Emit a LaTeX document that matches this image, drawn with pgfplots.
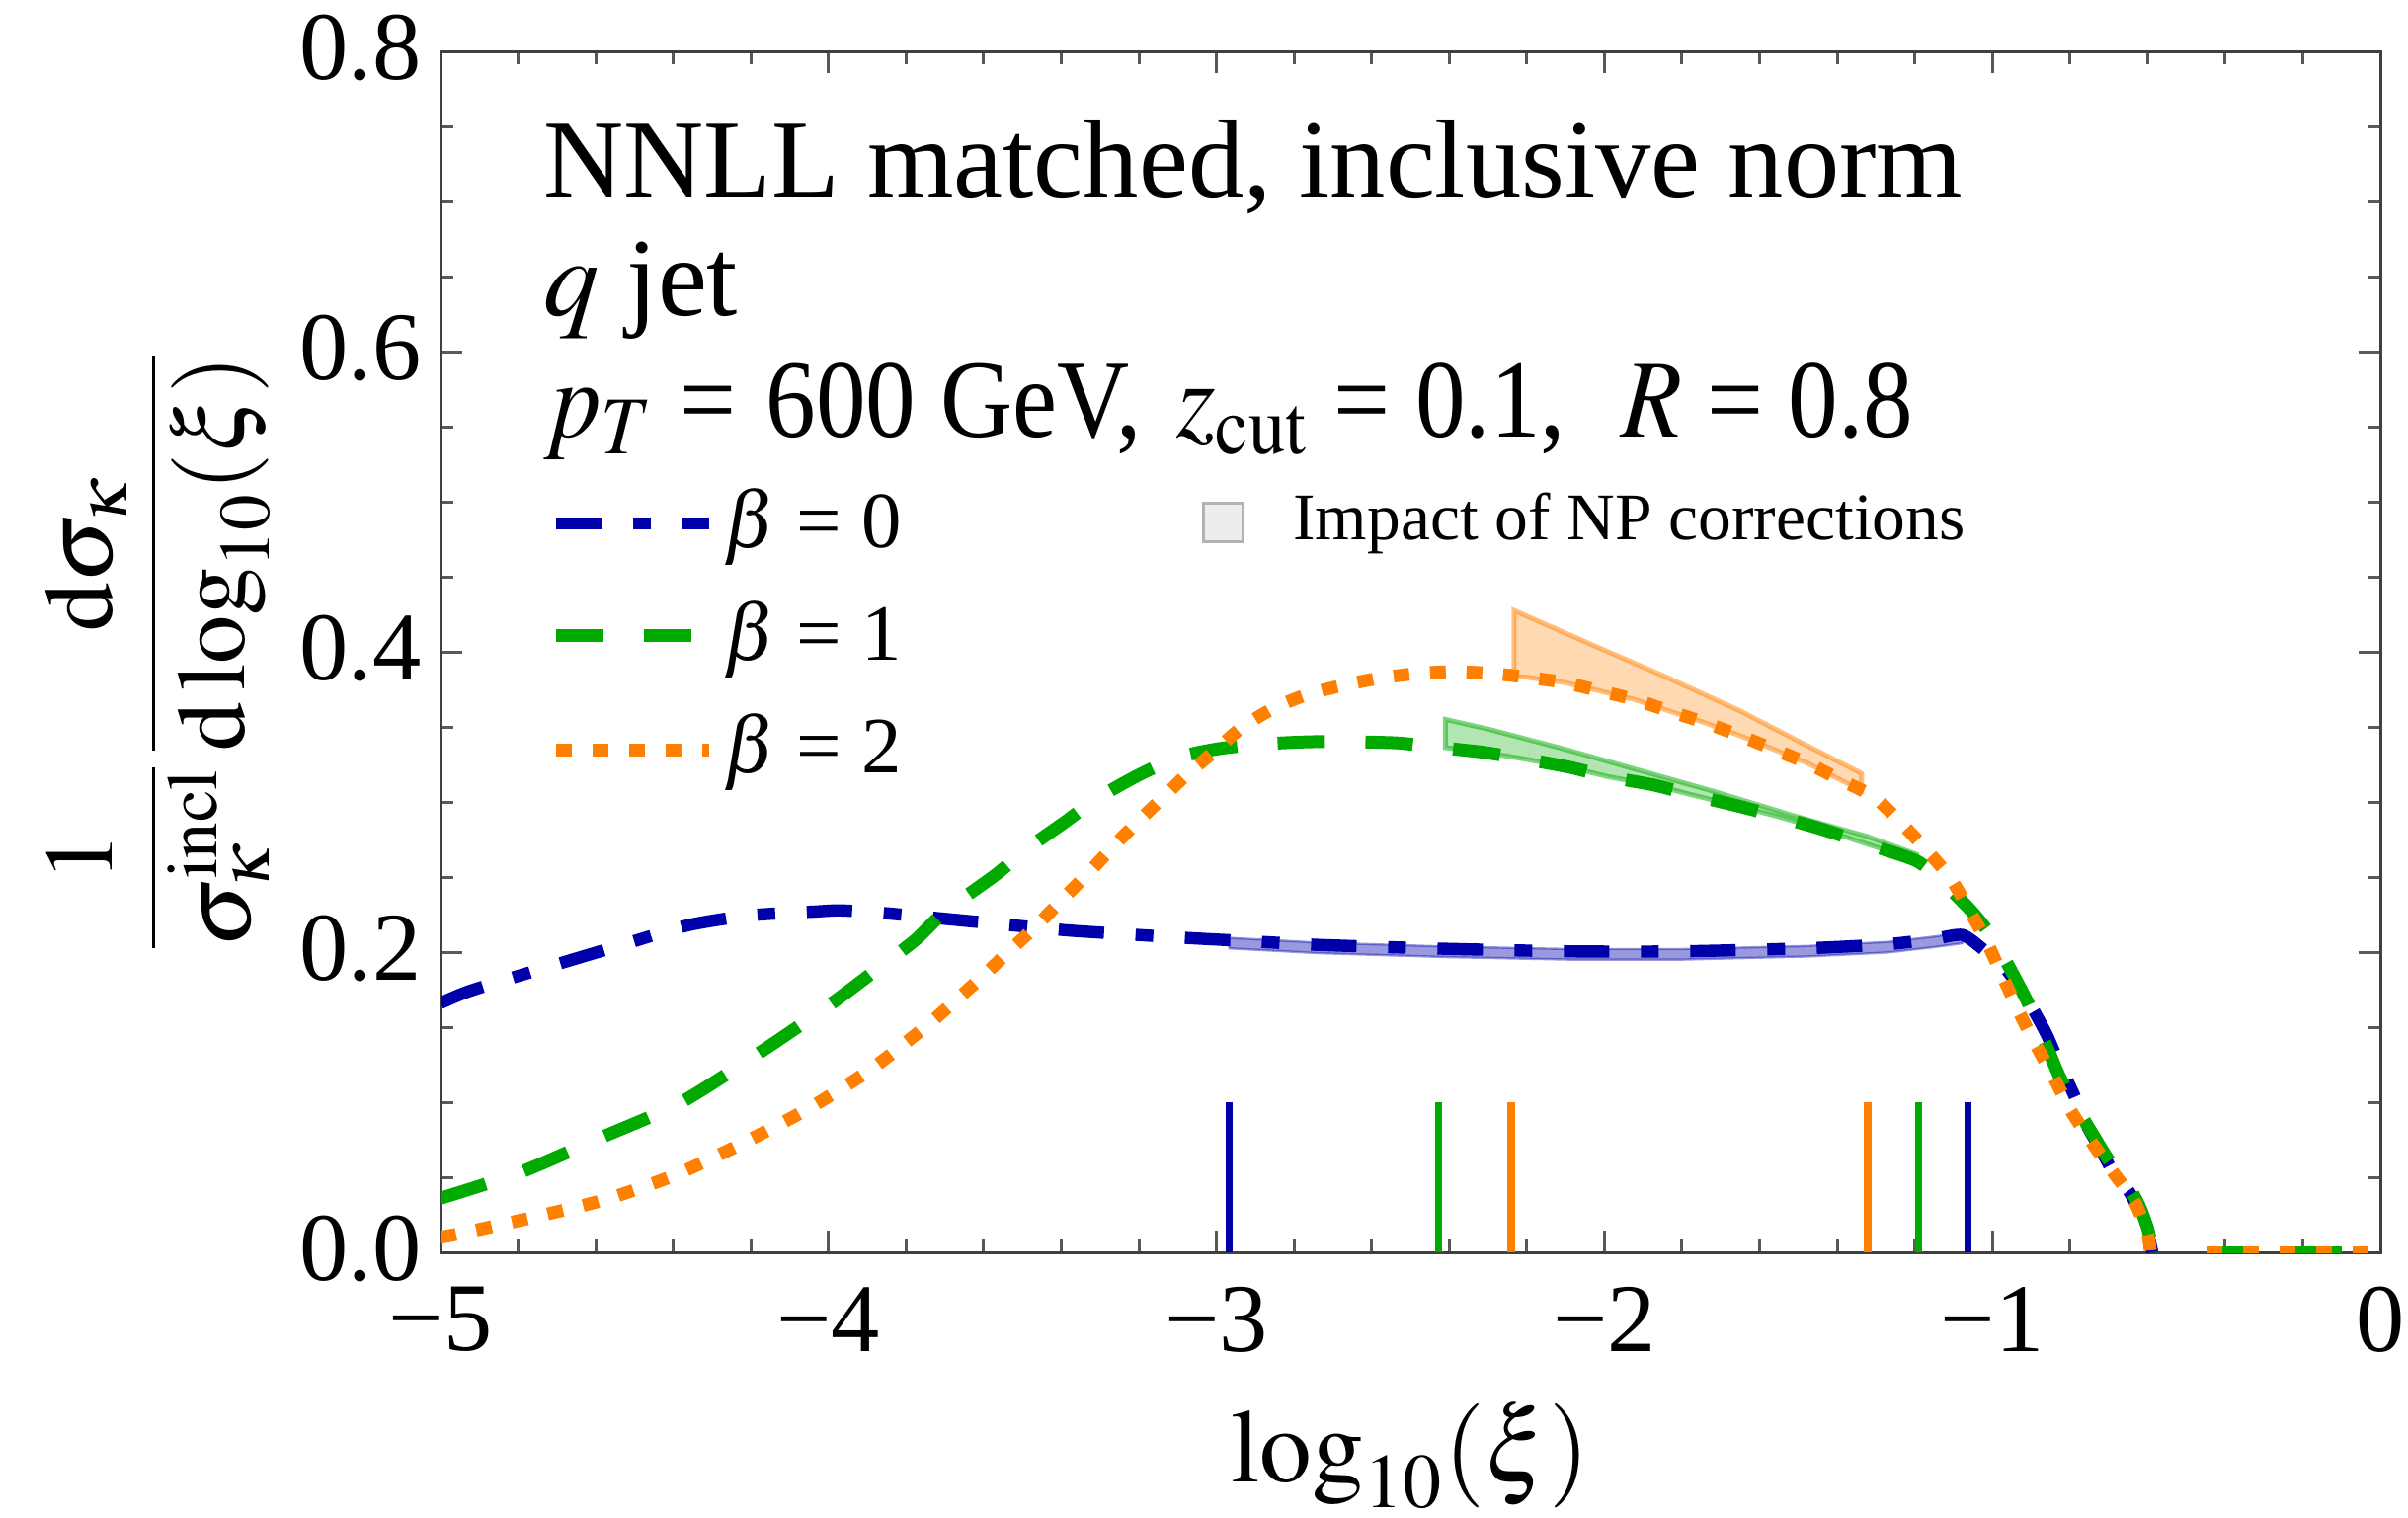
\documentclass[border=0pt]{standalone}
\usepackage{mathptmx}
\usepackage{fontspec}
\setmainfont{Liberation Serif}
\usepackage{graphicx}
\usepackage{pgfplots}
\pgfplotsset{compat=1.18}

\definecolor{cBlue}{RGB}{0,0,170}
\definecolor{cGreen}{RGB}{0,170,0}
\definecolor{cOrange}{RGB}{255,128,0}

\tikzset{
  beta0/.style={cBlue, line width=0.62mm, dash pattern=on 2.3mm off 1.6mm on 0.9mm off 1.6mm},
  beta1/.style={cGreen, line width=0.65mm, dash pattern=on 2.4mm off 2.05mm},
  beta2/.style={cOrange, line width=0.65mm, dash pattern=on 0.8mm off 1.05mm},
  npband/.style={fill=#1, fill opacity=0.3, draw=#1, draw opacity=0.5, line width=0.25mm},
  infotext/.style={anchor=base west, inner sep=0pt, font=\fontsize{16}{19}\selectfont},
}
% the parameter line is set slightly narrower
\newcommand{\narrow}[1]{\scalebox{0.9}[1]{#1}}

\begin{document}
\begin{tikzpicture}
\path[use as bounding box] (-22.3mm,-13.4mm) rectangle (99.6mm,63.4mm);
\begin{axis}[
  at={(0,0)}, anchor=south west,
  scale only axis, width=98.2mm, height=60.8mm,
  xmin=-5, xmax=0, ymin=0, ymax=0.8,
  xtick={-5,-4,-3,-2,-1,0},
  xticklabels={−5,−4,−3,−2,−1,0},
  ytick={0,0.2,0.4,0.6,0.8},
  yticklabels={0.0,0.2,0.4,0.6,0.8},
  minor x tick num=4, minor y tick num=3,
  tick align=inside,
  major tick length=1.1mm, minor tick length=0.65mm,
  tick style={black!65, line width=0.15mm},
  axis line style={black!75, line width=0.15mm},
  ticklabel style={font=\fontsize{14}{16}\selectfont},
  xticklabel style={inner sep=0pt, yshift=-1.7mm},
  yticklabel style={inner sep=0pt, xshift=-0.9mm, yshift=0.2mm},
]
% non-perturbative bands
\addplot[npband=cBlue, fill opacity=0.4, draw opacity=0.4, line width=0.12mm] coordinates {
  (-2.967,0.2095) (-2.737,0.2063) (-2.408,0.2037) (-2.088,0.2020) (-1.802,0.2020)
  (-1.474,0.2041) (-1.268,0.2068) (-1.151,0.2103) (-1.077,0.2129)
  (-1.077,0.2059) (-1.151,0.2033) (-1.268,0.1998) (-1.474,0.1971) (-1.802,0.1950)
  (-2.088,0.1950) (-2.408,0.1967) (-2.737,0.1993) (-2.967,0.2025)
} -- cycle;
\addplot[npband=cGreen] coordinates {
  (-2.41,0.355) (-2.299,0.3485) (-2.104,0.3353) (-1.909,0.321) (-1.715,0.3068)
  (-1.52,0.2914) (-1.325,0.2772) (-1.195,0.2651)
  (-1.195,0.2607) (-1.293,0.2695) (-1.436,0.2816) (-1.553,0.2903) (-1.650,0.2969)
  (-1.773,0.3046) (-1.871,0.3112) (-1.988,0.3167) (-2.091,0.3232) (-2.207,0.3287)
  (-2.312,0.3331) (-2.41,0.3362)
} -- cycle;
\addplot[npband=cOrange] coordinates {
  (-2.233,0.4276) (-2.039,0.4055) (-1.844,0.3836) (-1.649,0.3605) (-1.494,0.3397)
  (-1.337,0.319)
  (-1.337,0.3075) (-1.390,0.3145) (-1.474,0.3255) (-1.566,0.3353) (-1.650,0.3441)
  (-1.741,0.3528) (-1.832,0.3605) (-1.922,0.3682) (-2.014,0.3741) (-2.104,0.3796)
  (-2.195,0.3829) (-2.233,0.3840)
} -- cycle;

% transition points
\addplot[cBlue, line width=0.38mm] coordinates {(-2.967,0) (-2.967,0.1)};
\addplot[cGreen, line width=0.38mm] coordinates {(-2.427,0) (-2.427,0.1)};
\addplot[cOrange, line width=0.38mm] coordinates {(-2.24,0) (-2.24,0.1)};
\addplot[cOrange, line width=0.38mm] coordinates {(-1.322,0) (-1.322,0.1)};
\addplot[cGreen, line width=0.38mm] coordinates {(-1.19,0) (-1.19,0.1)};
\addplot[cBlue, line width=0.38mm] coordinates {(-1.063,0) (-1.063,0.1)};

% beta = 0
\addplot[beta0, smooth, tension=0.4] coordinates {
  (-5.0,0.166) (-4.926,0.174) (-4.75,0.188) (-4.53,0.205) (-4.36,0.218) (-4.20,0.2245)
  (-4.036,0.227) (-3.971,0.2278) (-3.87,0.2263) (-3.709,0.2224) (-3.547,0.2184)
  (-3.386,0.2145) (-3.226,0.2118) (-3.06,0.2092) (-2.897,0.207) (-2.737,0.2048)
  (-2.408,0.2022) (-2.088,0.2005) (-1.802,0.2005) (-1.474,0.2026) (-1.268,0.2053)
  (-1.151,0.2088) (-1.077,0.2114) (-1.02,0.201) (-0.97,0.19) (-0.94,0.18) (-0.90,0.164)
  (-0.86,0.145) (-0.83,0.127) (-0.79,0.105) (-0.76,0.086) (-0.72,0.068) (-0.688,0.053)
  (-0.647,0.04) (-0.62,0.027) (-0.60,0.013) (-0.588,0)
};
% beta = 1
\addplot[beta1, smooth, tension=0.4] coordinates {
  (-5.0,0.036) (-4.797,0.053) (-4.59,0.076) (-4.386,0.099) (-4.195,0.130) (-4.007,0.163)
  (-3.87,0.1895) (-3.776,0.2081) (-3.70,0.227) (-3.569,0.2515) (-3.49,0.2685)
  (-3.386,0.2875) (-3.31,0.302) (-3.20,0.318) (-3.098,0.3298) (-2.994,0.3355)
  (-2.883,0.3386) (-2.759,0.3401) (-2.655,0.3401) (-2.532,0.3393) (-2.429,0.3364)
  (-2.312,0.3331) (-2.207,0.3287) (-2.091,0.3232) (-1.988,0.3167) (-1.871,0.3112)
  (-1.773,0.3046) (-1.650,0.2969) (-1.553,0.2903) (-1.436,0.2816) (-1.293,0.2695)
  (-1.195,0.2607) (-1.138,0.249) (-1.06,0.229) (-1.015,0.215) (-0.974,0.198)
  (-0.94,0.182) (-0.906,0.165) (-0.878,0.148) (-0.85,0.131) (-0.825,0.116)
  (-0.777,0.094) (-0.74,0.078) (-0.703,0.0625) (-0.647,0.043) (-0.62,0.03)
  (-0.60,0.016) (-0.586,0)
};
\addplot[beta1] coordinates {(-0.447,0) (0,0)};
% beta = 2
\addplot[beta2, smooth, tension=0.4] coordinates {
  (-5.0,0.010) (-4.94,0.013) (-4.766,0.023) (-4.577,0.035) (-4.40,0.051) (-4.226,0.072)
  (-4.05,0.096) (-3.89,0.122) (-3.742,0.152) (-3.602,0.184) (-3.531,0.2015)
  (-3.462,0.218) (-3.394,0.236) (-3.327,0.2535) (-3.264,0.271) (-3.198,0.288)
  (-3.127,0.3057) (-3.076,0.3184) (-3.004,0.334) (-2.935,0.3496) (-2.851,0.3627)
  (-2.767,0.3715) (-2.668,0.3781) (-2.579,0.3825) (-2.480,0.3857) (-2.390,0.3868)
  (-2.292,0.3857) (-2.195,0.3829) (-2.104,0.3796) (-2.014,0.3741) (-1.922,0.3682)
  (-1.832,0.3605) (-1.741,0.3528) (-1.650,0.3441) (-1.566,0.3353) (-1.474,0.3255)
  (-1.390,0.3145) (-1.306,0.3035) (-1.235,0.286) (-1.176,0.2697) (-1.11,0.25)
  (-1.062,0.229) (-1.015,0.207) (-0.974,0.184) (-0.933,0.161) (-0.892,0.14)
  (-0.845,0.118) (-0.797,0.094) (-0.743,0.073) (-0.688,0.053) (-0.634,0.034)
  (-0.60,0.012) (-0.593,0)
};
\addplot[beta2] coordinates {(-0.447,0) (0,0)};
\end{axis}

% axis labels
\node[anchor=base, inner sep=0pt, font=\fontsize{15}{18}\selectfont] at (49.1mm,-11.6mm) {$\log_{10}(\xi)$};
\node[rotate=90, inner sep=0pt, font=\fontsize{14}{17}\selectfont] at (-14.3mm,30.4mm)
  {$\displaystyle\frac{1}{\sigma_\kappa^{\mathrm{incl}}}\frac{\mathrm{d}\sigma_\kappa}{\mathrm{d}\log_{10}(\xi)}$};

% annotations
\node[infotext] at (5.15mm,53.4mm) {NNLL matched, inclusive norm};
\node[infotext] at (5.15mm,47.4mm) {$q$ jet};
\node[infotext] at (5.15mm,41.25mm) {\narrow{$p_T$ =}};
\node[infotext] at (16.4mm,41.25mm) {\narrow{600 GeV,}};
\node[infotext] at (37.2mm,41.25mm) {\narrow{$z_{\mathrm{cut}}$ = 0.1,}};
\node[infotext] at (59.7mm,41.25mm) {\narrow{$R$ = 0.8}};

% legend
\draw[beta0] (5.85mm,36.9mm) -- (13.6mm,36.9mm);
\draw[beta1] (5.85mm,31.2mm) -- (13.6mm,31.2mm);
\draw[beta2] (5.85mm,25.4mm) -- (13.6mm,25.4mm);
\node[anchor=base west, inner sep=0pt, font=\fontsize{11.5}{14}\selectfont] at (14.25mm,35.65mm) {$\beta$ = 0};
\node[anchor=base west, inner sep=0pt, font=\fontsize{11.5}{14}\selectfont] at (14.25mm,29.95mm) {$\beta$ = 1};
\node[anchor=base west, inner sep=0pt, font=\fontsize{11.5}{14}\selectfont] at (14.25mm,24.25mm) {$\beta$ = 2};
\draw[fill=black!7, draw=black!30, line width=0.15mm] (38.6mm,35.95mm) rectangle (40.6mm,37.9mm);
\node[anchor=base west, inner sep=0pt, font=\fontsize{9.6}{12}\selectfont] at (43.1mm,36.05mm) {Impact of NP corrections};
\end{tikzpicture}
\end{document}
